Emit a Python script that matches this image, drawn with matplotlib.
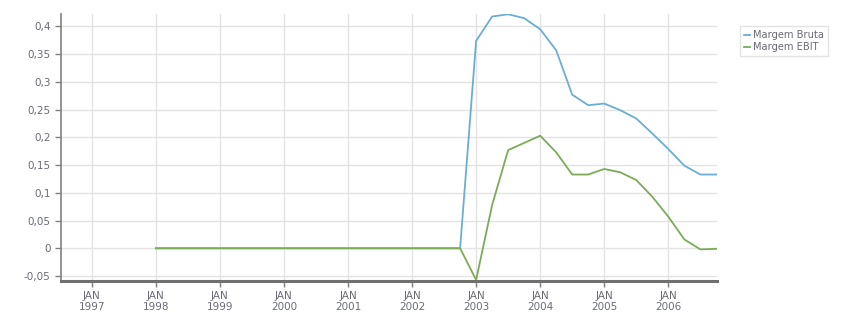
import matplotlib.pyplot as plt
from matplotlib.ticker import FuncFormatter

# quarterly points, as decimal years
quarters = [1998.0, 1998.25, 1998.5, 1998.75, 1999.0, 1999.25, 1999.5, 1999.75,
            2000.0, 2000.25, 2000.5, 2000.75, 2001.0, 2001.25, 2001.5, 2001.75,
            2002.0, 2002.25, 2002.5, 2002.75, 2003.0, 2003.25, 2003.5, 2003.75,
            2004.0, 2004.25, 2004.5, 2004.75, 2005.0, 2005.25, 2005.5, 2005.75,
            2006.0, 2006.25, 2006.5, 2006.75]

margem_bruta = [0.0] * 20 + [0.374, 0.418, 0.422, 0.415, 0.395, 0.357, 0.277, 0.258,
                             0.261, 0.249, 0.234, 0.207, 0.179, 0.149, 0.133, 0.133]
margem_ebit = [0.0] * 20 + [-0.057, 0.078, 0.177, 0.19, 0.203, 0.173, 0.133, 0.133,
                            0.143, 0.137, 0.123, 0.093, 0.057, 0.016, -0.002, -0.001]

year_ticks = list(range(1997, 2007))
y_ticks = [-0.05, 0, 0.05, 0.1, 0.15, 0.2, 0.25, 0.3, 0.35, 0.4]

text_col = "#6a6a78"
fig = plt.figure(figsize=(8.51, 3.13), dpi=100)
ax = fig.add_axes([61 / 851, 32 / 313, 656 / 851, 267 / 313])

ax.plot(quarters, margem_bruta, color="#6aaed6", lw=1.3, label="Margem Bruta")
ax.plot(quarters, margem_ebit, color="#7aac57", lw=1.3, label="Margem EBIT")

ax.set_xlim(1996.52, 2006.76)
ax.set_ylim(-0.059, 0.4225)
ax.set_xticks(year_ticks)
ax.set_xticklabels([f"JAN\n{y}" for y in year_ticks])
ax.set_yticks(y_ticks)
ax.yaxis.set_major_formatter(FuncFormatter(
    lambda v, p: "0" if abs(v) < 1e-9 else f"{v:g}".replace(".", ",")))

ax.grid(True, color="#e3e3e3", lw=1)
ax.set_axisbelow(True)
for s in ["top", "right"]:
    ax.spines[s].set_visible(False)
ax.spines["left"].set_color("#808080")
ax.spines["left"].set_linewidth(1.2)
ax.spines["bottom"].set_color("#707070")
ax.spines["bottom"].set_linewidth(2.2)
ax.tick_params(axis="both", colors="#808080", labelcolor=text_col,
               labelsize=7.5, length=4, width=1)
ax.tick_params(axis="x", pad=3)

leg = ax.legend(loc="upper left", bbox_to_anchor=(1.035, 0.955), fontsize=7.1,
                frameon=True, fancybox=False, handlelength=0.6,
                handletextpad=0.3, borderpad=0.4, labelspacing=0.25,
                borderaxespad=0)
leg.get_frame().set_edgecolor("#dddddd")
leg.get_frame().set_linewidth(1)
for t in leg.get_texts():
    t.set_color(text_col)

fig.savefig("out.png", dpi=100)
